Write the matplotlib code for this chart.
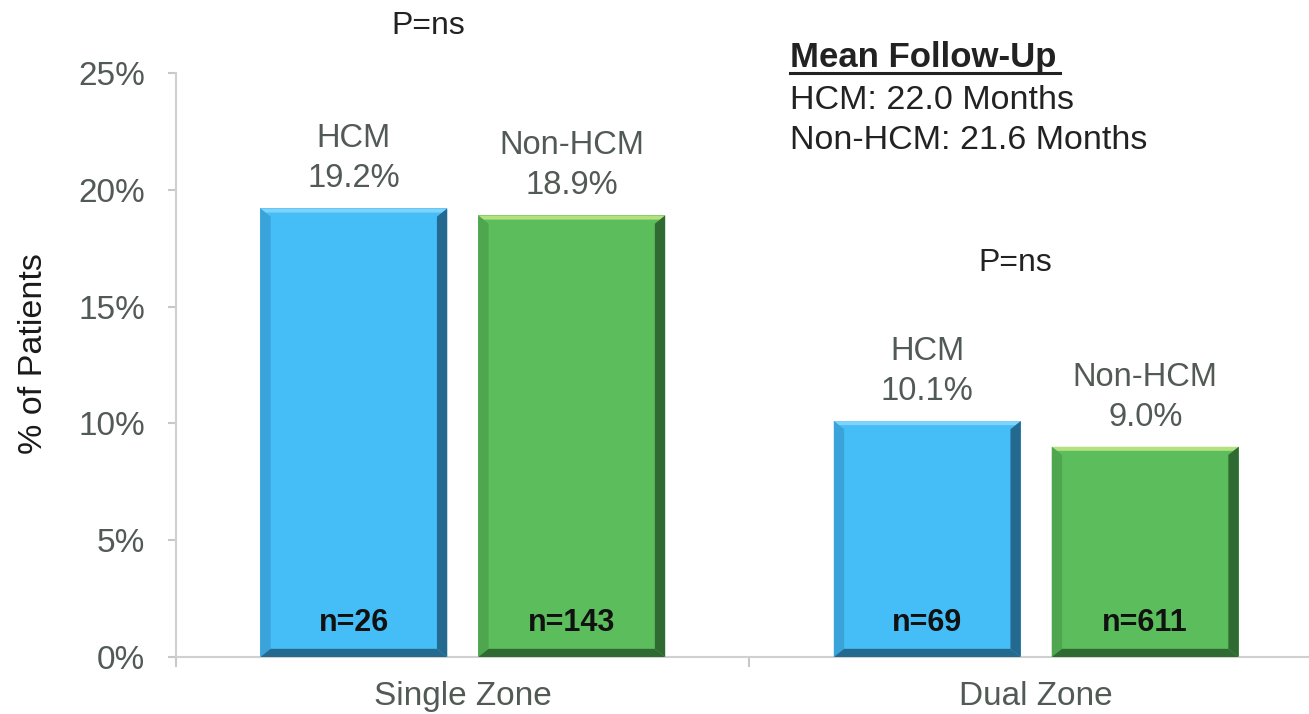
import numpy as np
import matplotlib.pyplot as plt
from matplotlib.patches import Polygon
from matplotlib.ticker import FuncFormatter, FixedLocator

plt.rcParams['font.family'] = ['Liberation Sans', 'DejaVu Sans']

# data
zones = ['Single Zone', 'Dual Zone']
groups = ['HCM', 'Non-HCM']
hcm_pct = [19.2, 10.1]
nonhcm_pct = [18.9, 9.0]
hcm_n = [26, 69]
nonhcm_n = [143, 611]
p_labels = ['P=ns', 'P=ns']
followup = ['HCM: 22.0 Months', 'Non-HCM: 21.6 Months']

# face / light / shade / dark colours for the bevelled bars
palette = {
    'HCM': ('#45bdf6', '#7fd3fa', '#3aa3da', '#24698f'),
    'Non-HCM': ('#5cbd5c', '#b5e07f', '#4ea64f', '#2f6a33'),
}

fig = plt.figure(figsize=(13.09, 7.14), dpi=100)
ax = fig.add_axes([176 / 1309, 57 / 714, 1 - 176 / 1309, (657 - 73) / 714])

x = np.arange(len(zones)) + 0.5
width = 0.326
offset = 0.19
bx, by = 0.018, 0.35  # bevel size in data units
px = 1 / 573.5        # one pixel along x in data units
py = 25 / 584         # one pixel along y in data units


def bevel_bar(xc, h, cols):
    face, light, shade, dark = cols
    x0, x1 = xc - width / 2, xc + width / 2
    ax.bar(xc, h, width, color=face, zorder=2)
    ax.add_patch(Polygon([(x0, h), (x1, h), (x1 - bx * 0.5, h - by * 0.5), (x0 + bx * 0.5, h - by * 0.5)],
                         closed=True, color=light, lw=0, zorder=3))
    ax.add_patch(Polygon([(x0, 0), (x0, h), (x0 + bx, h - by), (x0 + bx, by)],
                         closed=True, color=shade, lw=0, zorder=3))
    ax.add_patch(Polygon([(x1, 0), (x1, h), (x1 - bx, h - by), (x1 - bx, by)],
                         closed=True, color=dark, lw=0, zorder=3))
    ax.add_patch(Polygon([(x0, 0), (x1, 0), (x1 - bx, by), (x0 + bx, by)],
                         closed=True, color=dark, lw=0, zorder=3))


for i in range(len(zones)):
    for name, vals, ns, sign in [('HCM', hcm_pct, hcm_n, -1),
                                 ('Non-HCM', nonhcm_pct, nonhcm_n, 1)]:
        xc = x[i] + sign * offset
        bevel_bar(xc, vals[i], palette[name])
        ax.text(xc, vals[i] + 0.6, f'{name}\n{vals[i]:.1f}%', ha='center', va='bottom',
                fontsize=23.5, color='#525a56', linespacing=1.38)
        ax.text(xc, 1.45, f'n={ns[i]}', ha='center', va='center',
                fontsize=22, fontweight='bold', color='#111111', zorder=4)

# p-values above each pair
ax.text((428 - 176) * px, (657 - 26) * py, p_labels[0], ha='center', va='center',
        fontsize=23, color='#222222', clip_on=False)
ax.text((1015 - 176) * px, (657 - 263) * py, p_labels[1], ha='center', va='center',
        fontsize=23, color='#222222')

# follow-up note
tx = (790 - 176) * px
ax.text(tx, (657 - 57) * py, 'Mean Follow-Up', ha='left', va='center', fontsize=25,
        fontweight='bold', color='#222222', clip_on=False)
ax.plot([tx, (1060 - 176) * px], [(657 - 73) * py] * 2, color='#222222', lw=2.2,
        clip_on=False)
for k, line in enumerate(followup):
    ax.text(tx, (657 - 100 - 40 * k) * py, line, ha='left', va='center', fontsize=24.5,
            color='#222222')

ax.set_xlim(0, (1309 - 176) * px)
ax.set_ylim(0, 25)
ax.yaxis.set_major_locator(FixedLocator([0, 5, 10, 15, 20, 25]))
ax.yaxis.set_major_formatter(FuncFormatter(lambda v, _: f'{v:.0f}%'))
ax.set_xticks(x)
ax.set_xticklabels(zones)
ax.xaxis.set_minor_locator(FixedLocator([0, 1]))
ax.tick_params(axis='x', which='major', length=0, pad=17, labelsize=24, labelcolor='#525a56')
ax.tick_params(axis='x', which='minor', length=7, color='#c8c8c8', width=1.5)
ax.tick_params(axis='y', length=6, color='#c8c8c8', width=1.5, labelsize=24,
               labelcolor='#525a56', pad=16)

for s in ['top', 'right']:
    ax.spines[s].set_visible(False)
for s in ['left', 'bottom']:
    ax.spines[s].set_color('#d0d0d0')
    ax.spines[s].set_linewidth(1.5)

ax.set_ylabel('% of Patients', fontsize=24.5, color='#1a1a1a')
ax.yaxis.set_label_coords(-0.112, 0.519)

fig.savefig('out.png', dpi=100)
